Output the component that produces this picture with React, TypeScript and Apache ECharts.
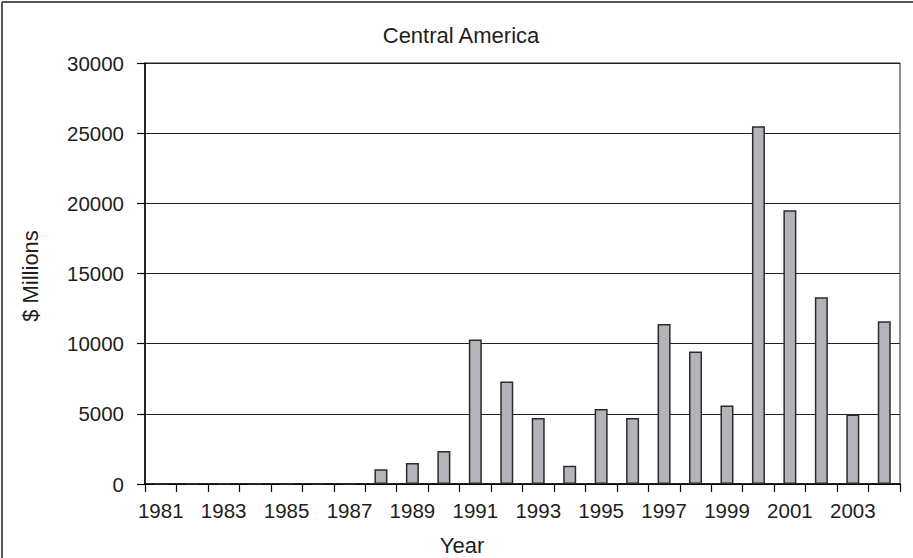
import React, { useEffect, useRef } from "react";
import * as echarts from "echarts";

// Central America, annual amounts in $ millions
const years = [
  "1981", "1982", "1983", "1984", "1985", "1986", "1987", "1988",
  "1989", "1990", "1991", "1992", "1993", "1994", "1995", "1996",
  "1997", "1998", "1999", "2000", "2001", "2002", "2003", "2004",
];
const millions = [
  0, 0, 0, 0, 0, 0, 0, 1050,
  1500, 2350, 10300, 7300, 4700, 1300, 5350, 4700,
  11400, 9450, 5600, 25500, 19500, 13300, 4950, 11600,
];
const chartTitle = "Central America";
const xTitle = "Year";
const yTitle = "$ Millions";

const FONT = '"Liberation Sans", Arial, Helvetica, sans-serif';
const INK = "#1e1e1e";

export default function App() {
  const ref = useRef<HTMLDivElement>(null);

  useEffect(() => {
    document.body.style.margin = "0";
    if (!ref.current) return;
    const chart = echarts.init(ref.current, undefined, { renderer: "svg" });
    chart.setOption({
      animation: false,
      backgroundColor: "#ffffff",
      textStyle: { fontFamily: FONT },
      grid: {
        left: 145,
        top: 63,
        right: 13,
        bottom: 74,
        show: true,
        borderColor: "#222",
        borderWidth: 1,
        backgroundColor: "transparent",
      },
      xAxis: {
        type: "category",
        data: years,
        boundaryGap: true,
        axisLine: { lineStyle: { color: "#000", width: 1.5 } },
        axisTick: { show: true, length: 8, interval: 0, lineStyle: { color: "#000", width: 1.2 } },
        axisLabel: {
          interval: 1,
          margin: 16,
          color: INK,
          fontSize: 20.5,
          fontFamily: FONT,
        },
        splitLine: { show: false },
      },
      yAxis: {
        type: "value",
        min: 0,
        max: 30000,
        interval: 5000,
        axisLine: { show: true, lineStyle: { color: "#000", width: 1.5 } },
        axisTick: { show: true, length: 8, lineStyle: { color: "#000", width: 1.2 } },
        axisLabel: {
          margin: 21,
          color: INK,
          fontSize: 20.5,
          fontFamily: FONT,
          formatter: (v: number) => String(v),
        },
        splitLine: { show: true, lineStyle: { color: "#222", width: 1 } },
      },
      series: [
        {
          type: "bar",
          data: millions,
          barWidth: 13,
          itemStyle: {
            color: "#b3b4b9",
            borderColor: "#2b2b2b",
            borderWidth: 1.5,
          },
        },
      ],
      graphic: [
        // frame lines along the top and left edges
        {
          type: "line",
          shape: { x1: 2, y1: 2, x2: 913, y2: 2 },
          style: { stroke: "#555", lineWidth: 2 },
        },
        {
          type: "line",
          shape: { x1: 2, y1: 2, x2: 2, y2: 558 },
          style: { stroke: "#555", lineWidth: 2 },
        },
        {
          type: "text",
          x: 461,
          y: 35,
          style: {
            text: chartTitle,
            fill: INK,
            font: `22px ${FONT}`,
            textAlign: "center",
            textVerticalAlign: "middle",
          },
        },
        {
          type: "text",
          x: 462,
          y: 545,
          style: {
            text: xTitle,
            fill: INK,
            font: `22px ${FONT}`,
            textAlign: "center",
            textVerticalAlign: "middle",
          },
        },
        {
          type: "text",
          x: 30,
          y: 276,
          rotation: Math.PI / 2,
          style: {
            text: yTitle,
            fill: INK,
            font: `22px ${FONT}`,
            textAlign: "center",
            textVerticalAlign: "middle",
          },
        },
      ],
    });
    return () => chart.dispose();
  }, []);

  return <div ref={ref} style={{ width: 913, height: 558 }} />;
}
